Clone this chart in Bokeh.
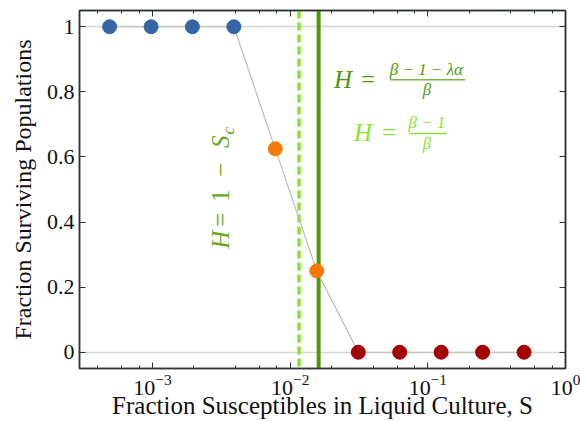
import math
from bokeh.plotting import figure
from bokeh.models import (Range1d, LogAxis, LinearAxis, FixedTicker, LogTicker,
                          Span, Label, ColumnDataSource)
from bokeh.embed import file_html
from bokeh.resources import INLINE

# ---- data ----
s_values = [0.000488, 0.000977, 0.00195, 0.0039, 0.0078, 0.0156,
            0.03125, 0.0625, 0.125, 0.25, 0.5]
surviving = [1, 1, 1, 1, 0.625, 0.25, 0, 0, 0, 0, 0]
outcome = ["all", "all", "all", "all", "some", "some",
           "none", "none", "none", "none", "none"]
outcome_colors = {"all": "#3465a4", "some": "#f57900", "none": "#a40000"}

h_threshold_full = 0.0161   # H = (beta-1-lambda*alpha)/beta
h_threshold_simple = 0.0116  # H = (beta-1)/beta

y_ticks = [0, 0.2, 0.4, 0.6, 0.8, 1]
y_tick_labels = ["0", "0.2", "0.4", "0.6", "0.8", "1"]

FONT = "Liberation Serif"
DARK_GREEN = "#4e9a06"
LIGHT_GREEN = "#8ae234"
MID_GREEN = "#62a81c"
FRAME = "#2e3436"

p = figure(width=580, height=421, x_axis_type="log",
           x_range=Range1d(2.95e-4, 1.0), y_range=Range1d(-0.05, 1.05),
           output_backend="svg", toolbar_location=None,
           min_border_left=79, min_border_right=15, min_border_top=10,
           min_border_bottom=53)
p.background_fill_color = "white"
p.border_fill_color = "white"
p.outline_line_color = FRAME
p.outline_line_width = 1.5

p.xgrid.visible = False
p.ygrid.ticker = FixedTicker(ticks=[0, 1])
p.ygrid.grid_line_color = "#d3d7cf"
p.ygrid.grid_line_width = 1.6

def style_axis(ax, labels=True):
    ax.axis_line_color = FRAME
    ax.axis_line_width = 1.5
    ax.major_tick_in = 6
    ax.major_tick_out = 0
    ax.minor_tick_in = 3
    ax.minor_tick_out = 0
    ax.major_tick_line_color = FRAME
    ax.minor_tick_line_color = FRAME
    ax.major_tick_line_width = 1
    ax.minor_tick_line_width = 1
    ax.major_label_text_font = FONT
    if labels:
        ax.major_label_text_font_size = "22px"
        ax.major_label_text_color = "#111111"
    else:
        ax.major_label_text_font_size = "1px"
        ax.major_label_text_color = None
        ax.major_label_standoff = 0
    ax.axis_label_text_font = FONT
    ax.axis_label_text_font_style = "normal"
    ax.axis_label_text_color = "#111111"

xax = p.xaxis[0]
style_axis(xax)
xax.ticker = LogTicker(desired_num_ticks=4)
xax.axis_label = "Fraction Susceptibles in Liquid Culture, S"
xax.axis_label_text_font_size = "25px"
xax.major_label_standoff = 6
xax.axis_label_standoff = -6

yax = p.yaxis[0]
style_axis(yax)
yax.ticker = FixedTicker(ticks=y_ticks)
yax.major_label_overrides = {str(t): l for t, l in zip(y_ticks, y_tick_labels)}
yax.minor_tick_line_color = None
yax.axis_label = "Fraction Surviving Populations"
yax.axis_label_text_font_size = "24px"
yax.major_label_standoff = 5
yax.axis_label_standoff = 8

top = LogAxis(ticker=LogTicker(desired_num_ticks=4))
style_axis(top, labels=False)
p.add_layout(top, "above")
right = LinearAxis(ticker=FixedTicker(ticks=y_ticks))
style_axis(right, labels=False)
right.minor_tick_line_color = None
p.add_layout(right, "right")

# threshold lines
p.add_layout(Span(location=h_threshold_simple, dimension="height",
                  line_color=LIGHT_GREEN, line_width=3.5, line_dash="8 4",
                  level="underlay"))
p.add_layout(Span(location=h_threshold_full, dimension="height",
                  line_color=DARK_GREEN, line_width=4, level="underlay"))

src = ColumnDataSource(dict(s=s_values, f=surviving,
                            c=[outcome_colors[o] for o in outcome]))
p.line("s", "f", source=src, line_color="#babdb6", line_width=1.2)
p.scatter("s", "f", source=src, size=14, fill_color="c", line_color="c")

# annotations
def lab(x, y, text, color, size, style="normal", align="center",
        baseline="middle", angle=0):
    p.add_layout(Label(x=x, y=y, text=text, text_color=color,
                       text_font=FONT, text_font_size=size,
                       text_font_style=style, text_align=align,
                       text_baseline=baseline, angle=angle))

# H = (beta-1-lambda alpha)/beta
lab(0.0208, 0.8365, "H", DARK_GREEN, "25px", "italic", align="left")
lab(0.0327, 0.8365, "=", DARK_GREEN, "25px", align="left")
lab(0.0975, 0.868, "β − 1 − λα", DARK_GREEN, "17px", "italic")
p.segment(x0=[0.0533], x1=[0.1867], y0=[0.8375], y1=[0.8375],
          line_color="#7db548", line_width=1.5)
lab(0.0985, 0.806, "β", DARK_GREEN, "17px", "italic")

# H = (beta-1)/beta
lab(0.0291, 0.674, "H", LIGHT_GREEN, "25px", "italic", align="left")
lab(0.0465, 0.674, "=", LIGHT_GREEN, "25px", align="left")
lab(0.0985, 0.705, "β − 1", LIGHT_GREEN, "17px", "italic")
p.segment(x0=[0.0734], x1=[0.1363], y0=[0.672], y1=[0.672],
          line_color=LIGHT_GREEN, line_width=1.5)
lab(0.0985, 0.640, "β", LIGHT_GREEN, "17px", "italic")

# H = 1 - S_c (vertical, reading upward)
vx = 0.003094
for txt, yy, st in [("H", 0.3457, "italic"), ("=", 0.407, "normal"),
                    ("1", 0.4806, "normal"), ("−", 0.5604, "normal"),
                    ("S", 0.6471, "italic")]:
    lab(vx, yy, txt, MID_GREEN, "25px", st, align="center",
        baseline="alphabetic", angle=math.pi / 2)
lab(0.003589, 0.6809, "c", MID_GREEN, "17px", "italic", align="center",
    baseline="alphabetic", angle=math.pi / 2)

open("out.html", "w").write(file_html(p, INLINE))
